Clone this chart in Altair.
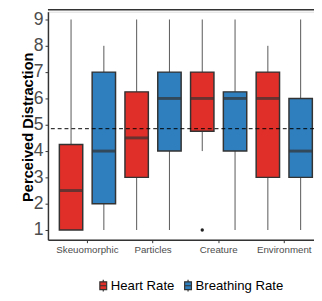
import altair as alt
import pandas as pd

categories = ["Skeuomorphic", "Particles", "Creature", "Environment"]
series = ["Heart Rate", "Breathing Rate"]

hr_min = [1, 1, 4, 1]
hr_q1 = [1, 3, 4.75, 3]
hr_med = [2.5, 4.5, 6, 6]
hr_q3 = [4.25, 6.25, 7, 7]
hr_max = [9, 9, 9, 8]

br_min = [1, 1, 1, 1]
br_q1 = [2, 4, 4, 3]
br_med = [4, 6, 6, 4]
br_q3 = [7, 7, 6.25, 6]
br_max = [8, 9, 9, 9]

out_cat = ["Creature"]
out_series = ["Heart Rate"]
out_val = [1]

ref_value = 4.85
y_ticks = [1, 2, 3, 4, 5, 6, 7, 8, 9]
colors = ["#E02F28", "#2F7EBD"]

rows = []
for i, c in enumerate(categories):
    rows.append(dict(cat=c, s=series[0], lo=hr_min[i], q1=hr_q1[i], med=hr_med[i], q3=hr_q3[i], hi=hr_max[i]))
    rows.append(dict(cat=c, s=series[1], lo=br_min[i], q1=br_q1[i], med=br_med[i], q3=br_q3[i], hi=br_max[i]))
df = pd.DataFrame(rows)
odf = pd.DataFrame(dict(cat=out_cat, s=out_series, v=out_val))

W, H = 273, 234
xs = alt.X("cat:N", sort=categories, title=None,
           scale=alt.Scale(range=[0, 283], paddingInner=0, paddingOuter=0.102),
           axis=alt.Axis(labelFontSize=10, labelColor="#4D4D4D", labelFont="Liberation Sans",
                         tickSize=3, tickColor="#333333", domainColor="#333333", domainWidth=1.5,
                         labelAngle=0, labelPadding=2))
xo = alt.XOffset("s:N", sort=series, scale=alt.Scale(paddingInner=0, paddingOuter=0))
yscale = alt.Scale(domain=[0.63, 9.296], nice=False, zero=False)
yax = alt.Axis(values=y_ticks, labelFontSize=18, labelColor="#4D4D4D", labelFont="Liberation Sans",
               labelOverlap=False,
               tickSize=3, tickColor="#333333", domainColor="#333333", domainWidth=1.5,
               grid=False, title="Perceived Distraction", titleFontSize=15, titleFont="Liberation Sans",
               titleFontWeight="bold", titleColor="#000000", titleX=-16, titleY=118,
               titleAngle=270, titleAlign="center", titleBaseline="alphabetic", labelPadding=2)
Y = lambda f: alt.Y(f, scale=yscale, axis=yax)

base = alt.Chart(df)
whisk = base.mark_rule(color="#555555", strokeWidth=1).encode(
    x=xs, xOffset=xo, y=Y("lo:Q"), y2="hi:Q")
legend_path = "M-0.875,-1H0.875V1H-0.875Z M-0.875,0H0.875 M0,-1V-1.5 M0,1V1.5"
box = base.mark_bar(size=24, stroke="#333333", strokeWidth=1.5).encode(
    x=xs, xOffset=xo, y=Y("q1:Q"), y2="q3:Q",
    color=alt.Color("s:N", sort=series, title=None,
                    scale=alt.Scale(domain=series, range=colors),
                    legend=alt.Legend(orient="none", direction="horizontal", legendX=50, legendY=274,
                                      symbolType=legend_path, symbolSize=64, symbolStrokeColor="#333333",
                                      symbolStrokeWidth=1.2, labelFontSize=13.5, labelFont="Liberation Sans",
                                      labelColor="#000000", labelOffset=1, columnPadding=7,
                                      symbolOpacity=1)))
med = base.mark_tick(size=24, thickness=3, color="#333333", orient="horizontal").encode(
    x=xs, xOffset=xo, y=Y("med:Q"))
outl = alt.Chart(odf).mark_circle(size=12, color="#222222", opacity=1).encode(
    x=xs, xOffset=xo, y=Y("v:Q"))
ref = alt.Chart(pd.DataFrame(dict(v=[ref_value]))).mark_rule(
    color="#000000", strokeDash=[4, 3], strokeWidth=1).encode(y=Y("v:Q"))
top = alt.Chart(pd.DataFrame(dict(v=[0]))).mark_rule(color="#333333", strokeWidth=1.5).encode(
    x=alt.value(0), x2=alt.value(W), y=alt.value(-2))

chart = alt.layer(whisk, box, med, outl, ref, top).properties(
    width=W, height=H,
    autosize=alt.AutoSizeParams(type="none"),
    padding={"left": 41, "top": 0, "right": 0, "bottom": 57},
).configure_view(stroke=None).configure_axisY(labelOverlap=False).configure(background="white")

chart.save("out.html", embed_options={"renderer": "svg", "actions": False})
